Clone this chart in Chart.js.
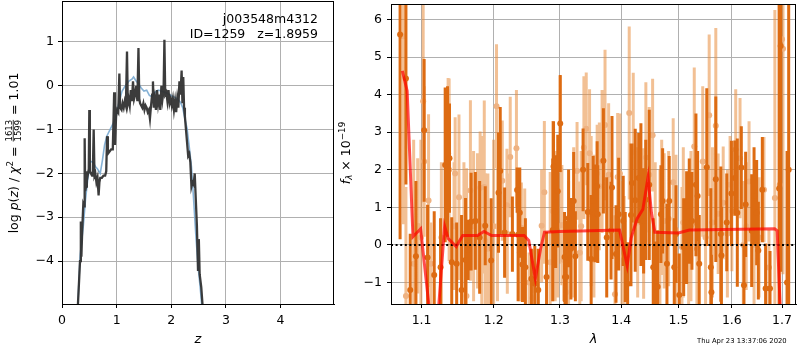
<!DOCTYPE html>
<html><head><meta charset="utf-8">
<script src="https://cdn.jsdelivr.net/npm/chart.js@4.4.1/dist/chart.umd.min.js"></script>
<style>
html,body{margin:0;padding:0;background:#fff;}
#wrap{position:relative;width:800px;height:350px;overflow:hidden;background:#fff;}
canvas{position:absolute;top:0;}
#c1{left:0;}
#c2{left:330px;}
</style></head>
<body><div id="wrap"><canvas id="c1" width="345" height="350"></canvas><canvas id="c2" width="470" height="350"></canvas></div>
<script>
// ---------- Left panel: p(z) ----------
const zGrid = [0.28,0.33,0.345,0.355,0.37,0.39,0.405,0.415,0.425,0.44,0.455,0.47,0.49,0.50,0.51,0.53,0.55,0.565,0.58,0.595,0.61,0.63,0.65,0.67,0.685,0.70,0.73,0.76,0.79,0.81,0.825,0.84,0.87,0.90,0.93,0.955,0.97,0.99,1.01,1.03,1.05,1.065,1.09,1.11,1.13,1.15,1.17,1.19,1.205,1.22,1.24,1.26,1.28,1.30,1.32,1.34,1.36,1.38,1.40,1.415,1.43,1.45,1.47,1.49,1.51,1.53,1.55,1.57,1.59,1.61,1.63,1.65,1.665,1.68,1.70,1.72,1.74,1.76,1.78,1.80,1.82,1.84,1.86,1.875,1.89,1.91,1.93,1.95,1.97,1.99,2.01,2.03,2.05,2.07,2.09,2.11,2.13,2.15,2.17,2.19,2.205,2.22,2.235,2.25,2.27,2.29,2.31,2.33,2.35,2.37,2.39,2.41,2.43,2.45,2.47,2.49,2.505,2.52,2.55,2.59];
const logPz = [-5.3,-4.0,-3.1,-3.9,-3.3,-2.7,-2.75,-1.2,-2.4,-2.3,-1.95,-2.05,-1.9,-0.55,-1.95,-2.0,-2.05,-1.95,-1.0,-2.05,-2.0,-2.2,-2.1,-2.5,-2.2,-2.1,-2.1,-2.05,-2.05,-1.95,-1.15,-1.55,-1.5,-1.45,-1.45,-0.15,-1.35,-0.7,-0.55,-0.6,0.28,-0.5,-0.55,-0.4,-0.5,-0.35,-0.45,0.78,-0.4,-0.3,-0.45,-0.1,-0.35,0.1,-0.3,-0.2,0.0,-0.35,0.86,-0.3,-0.4,-0.45,-0.5,-0.4,-0.55,-0.45,-0.5,-0.6,-0.55,-0.75,-0.45,-0.2,0.1,-0.5,-0.3,-0.55,-0.1,-0.4,-0.2,-0.55,0.0,-0.3,-0.1,1.05,-0.2,-0.15,-0.35,-0.1,-0.4,-0.3,-0.45,-0.3,-0.55,-0.35,-0.6,-0.3,-0.5,0.1,-0.2,0.35,-0.4,0.2,-0.5,-0.7,-1.0,-1.3,-1.6,-1.55,-1.75,-2.3,-2.2,-2.25,-2.0,-2.6,-3.2,-4.2,-3.5,-4.3,-4.6,-5.3];
const zPrior = [0.28,0.33,0.39,0.43,0.47,0.52,0.57,0.61,0.65,0.70,0.74,0.78,0.82,0.88,0.94,0.98,1.02,1.06,1.10,1.16,1.22,1.28,1.31,1.35,1.40,1.45,1.50,1.55,1.60,1.65,1.70,1.76,1.82,1.88,1.94,2.00,2.06,2.12,2.17,2.21,2.25,2.29,2.33,2.37,2.41,2.45,2.49,2.53,2.58];
const logPrior = [-5.3,-3.9,-3.2,-2.6,-2.15,-1.72,-1.75,-1.84,-1.9,-2.0,-1.7,-1.35,-1.15,-1.0,-0.85,-0.75,-0.5,-0.3,-0.12,0.0,0.1,0.15,0.2,0.12,0.05,-0.05,-0.12,-0.1,-0.22,-0.25,-0.15,-0.1,-0.12,-0.15,-0.18,-0.22,-0.26,-0.3,-0.38,-0.5,-0.75,-0.98,-1.4,-1.85,-2.6,-3.4,-4.1,-4.6,-5.3];
const zTicks = [0,1,2,3,4];
const pzTicks = [-4,-3,-2,-1,0,1];

// ---------- Right panel: spectrum ----------
const lamA = [1.0718,1.0794,1.0850,1.0925,1.1034,1.1080,1.1169,1.1255,1.1318,1.1350,1.1377,1.1408,1.1476,1.1544,1.1600,1.1636,1.1678,1.1738,1.1799,1.1879,1.1964,1.2071,1.2096,1.2160,1.2275,1.2345,1.2360,1.2385,1.2424,1.2469,1.2560,1.2612,1.2665,1.2792,1.2888,1.2900,1.2934,1.2966,1.3005,1.3073,1.3080,1.3100,1.3137,1.3174,1.3218,1.3245,1.3369,1.3445,1.3500,1.3533,1.3560,1.3598,1.3608,1.3701,1.3756,1.3828,1.3844,1.3911,1.3956,1.4033,1.4067,1.4108,1.4165,1.4181,1.4238,1.4297,1.4336,1.4383,1.4420,1.4481,1.4551,1.4599,1.4629,1.4687,1.4717,1.4794,1.4835,1.4925,1.4956,1.5016,1.5096,1.5150,1.5198,1.5247,1.5321,1.5352,1.5382,1.5523,1.5599,1.5610,1.5693,1.5788,1.5800,1.5902,1.5992,1.6056,1.6106,1.6184,1.6236,1.6269,1.6388,1.6435,1.6487,1.6520,1.6600,1.6666,1.6755,1.6940,1.6972,1.7103,1.7137];
const fluxA = [5.6,4.43,-1.2,-0.3,3.05,-0.33,-0.8,-0.59,2.13,2.22,2.31,-0.46,-0.5,-1.2,-0.4,-0.13,0.62,0.64,0.2,0.51,-0.41,1.39,1.97,0.33,0.29,1.46,0.27,0.86,-0.52,-0.59,-0.9,-1.03,-1.2,-0.85,0.4,2.09,0.89,1.43,3.23,-0.32,-0.85,-0.85,0.71,-0.1,1.17,-0.3,2.0,0.88,-0.37,1.17,0.84,1.56,0.82,2.24,0.2,0.38,1.53,-0.24,0.82,0.64,-0.32,-1.03,0.8,1.65,1.19,1.78,1.34,0.64,1.2,1.6,-0.59,-1.11,-1.11,0.82,1.17,-0.5,1.17,-0.59,0.29,-1.33,-0.06,0.46,0.9,0.64,1.6,1.3,-0.5,2.07,-0.59,-1.26,1.75,0.29,-0.28,0.6,1.37,1.78,0.86,2.06,-1.07,1.08,0.38,1.3,0.86,-0.15,1.47,-1.16,-1.16,1.5,5.29,-1.0,2.0];
const errA = [5.45,2.82,1.5,2.0,1.9,1.4,1.7,1.3,2.06,2.0,1.45,1.2,1.1,2.0,1.65,0.8,1.3,1.3,1.5,1.05,1.65,1.6,1.7,1.2,1.0,0.6,1.77,1.2,1.0,1.3,0.8,1.0,1.1,1.2,1.9,1.2,1.5,1.5,1.29,1.2,1.0,1.5,1.3,1.35,1.3,1.2,1.1,1.3,1.7,1.2,1.3,1.2,1.3,1.4,1.6,1.3,1.9,1.3,1.5,1.2,1.2,1.1,1.9,1.05,1.9,1.2,1.9,1.4,1.6,2.0,1.3,1.2,1.5,1.3,1.4,1.6,1.2,1.3,1.3,1.1,1.3,1.5,1.4,1.3,1.9,1.2,1.3,2.1,2.1,1.0,2.2,1.8,1.3,1.3,1.4,1.0,1.97,1.1,1.1,1.4,1.5,1.3,1.4,1.3,1.4,1.2,1.0,8,6,3.5,8];
const lamB = [1.0762,1.0794,1.0895,1.0948,1.0991,1.1021,1.1034,1.1093,1.1123,1.1266,1.1358,1.1372,1.1440,1.1455,1.1508,1.1577,1.1613,1.1668,1.1713,1.1768,1.1806,1.1829,1.1865,1.1879,1.1917,1.2000,1.2042,1.2056,1.2126,1.2194,1.2200,1.2243,1.2335,1.2385,1.2409,1.2459,1.2525,1.2575,1.2612,1.2716,1.2758,1.2848,1.2888,1.2926,1.2966,1.3005,1.3031,1.3058,1.3100,1.3137,1.3218,1.3272,1.3316,1.3338,1.3382,1.3420,1.3474,1.3500,1.3545,1.3598,1.3634,1.3679,1.3728,1.3788,1.3894,1.3939,1.3977,1.4011,1.4050,1.4135,1.4204,1.4280,1.4383,1.4422,1.4481,1.4540,1.4586,1.4669,1.4700,1.4745,1.4824,1.4906,1.4956,1.5065,1.5089,1.5187,1.5229,1.5290,1.5339,1.5447,1.5500,1.5568,1.5630,1.5693,1.5738,1.5834,1.5914,1.5966,1.6000,1.6075,1.6159,1.6223,1.6280,1.6336,1.6435,1.6535,1.6633,1.6733,1.6853,1.6953,1.7000,1.7020];
const fluxB = [5.55,-1.36,-0.5,0.51,0.2,3.82,2.22,1.18,-0.5,0.2,2.44,2.0,0.5,1.9,1.27,0.3,-1.36,1.45,0.5,0.64,1.52,0.5,1.54,0.11,-0.1,0.5,3.69,0.5,1.71,1.06,0.3,2.34,2.57,-0.2,0.46,0.0,-1.0,-1.42,-1.2,0.51,1.4,-0.46,0.9,0.5,0.5,2.0,0.53,-0.4,-1.26,0.0,0.6,1.97,-0.21,0.5,2.59,3.09,2.44,0.9,0.5,1.9,1.56,2.22,3.19,1.87,-1.31,1.81,1.9,0.0,-0.3,3.51,2.48,0.6,0.57,2.33,1.87,2.92,0.2,0.2,1.0,0.64,0.7,1.67,0.4,-0.06,0.6,0.1,0.5,2.62,-0.1,2.22,0.2,3.45,0.6,3.17,0.83,1.12,0.3,1.6,0.9,2.54,2.31,0.0,0.5,1.69,0.0,0.2,1.47,-0.6,1.25,1.6,5.47,5.22];
const errB = [5.0,2.9,3.3,1.8,2.6,2.7,2.0,2.3,1.1,2.0,2.0,2.43,1.7,1.5,2.2,1.9,3.4,2.4,2.0,1.8,1.5,2.4,2.3,1.8,2.0,2.3,1.65,2.0,1.6,1.5,1.6,1.6,1.55,1.3,1.2,1.5,0.8,1.3,0.7,1.5,1.9,2.4,2.4,2.0,1.9,2.5,1.6,1.1,1.2,1.7,2.0,1.3,1.9,2.0,1.9,1.5,1.7,2.0,1.9,1.3,1.7,1.9,2.0,1.9,2.1,1.7,1.6,1.7,1.6,2.3,2.1,2.0,2.0,2.0,1.8,1.5,2.0,1.8,1.8,1.8,1.8,1.7,2.0,1.6,2.0,1.8,2.0,2.1,1.8,2.0,1.8,2.15,2.0,2.6,1.6,1.5,1.7,1.3,1.6,1.6,1.6,1.7,1.7,1.6,1.6,1.6,1.4,1.0,5.0,6.0,6.0,6.0];
const lamModel = [1.0747,1.0810,1.0886,1.0987,1.1097,1.1150,1.1200,1.1231,1.1310,1.1360,1.1470,1.1560,1.1770,1.1860,1.1970,1.2450,1.2520,1.2620,1.2700,1.2760,1.3000,1.3970,1.4100,1.4170,1.4270,1.4370,1.4460,1.4520,1.4580,1.5000,1.5200,1.6850,1.6900,1.6960,1.7000];
const fluxModel = [4.63,4.10,0.22,0.43,-1.6,-2.2,-2.0,-1.6,0.5,0.17,-0.04,0.25,0.25,0.36,0.25,0.25,0.12,-0.9,-0.1,0.34,0.36,0.40,-0.55,0.2,0.7,0.95,1.8,0.85,0.34,0.32,0.40,0.43,0.38,-1.6,-2.5];
const lamTicks = [1.1,1.2,1.3,1.4,1.5,1.6,1.7];
const fluxTicks = [-1,0,1,2,3,4,5,6];

// ---------- helpers ----------
const FONT = '"DejaVu Sans", "Liberation Sans", sans-serif';
const TS = 12.5;
const minus = s => String(s).replace('-', '\u2212');
function xy(xs, ys){ return xs.map((x,i)=>({x:x, y:ys[i]})); }
function errPts(xs, ys, es){
  const p=[]; xs.forEach((x,i)=>{ p.push({x:x,y:ys[i]-es[i]},{x:x,y:ys[i]+es[i]},{x:x,y:null}); }); return p;
}
function font(sz, it){ return (it?'italic ':'') + sz + 'px ' + FONT; }
function richWidth(ctx, parts){
  let w=0; parts.forEach(p=>{
    if(p.frac){ ctx.font=font(p.s); w += Math.max(ctx.measureText(p.frac[0]).width, ctx.measureText(p.frac[1]).width)+2; }
    else { ctx.font=font(p.s,p.i); w += ctx.measureText(p.t).width; }
  }); return w;
}
function drawRich(ctx, parts, x, y){
  ctx.textBaseline='alphabetic'; ctx.textAlign='left'; ctx.fillStyle='#000';
  parts.forEach(p=>{
    if(p.frac){
      ctx.font=font(p.s);
      const w=Math.max(ctx.measureText(p.frac[0]).width, ctx.measureText(p.frac[1]).width);
      const axis = y - 4.3;
      ctx.textAlign='center';
      ctx.fillText(p.frac[0], x+1+w/2, axis-1.5);
      ctx.fillText(p.frac[1], x+1+w/2, axis+1.2+p.s*0.73);
      ctx.fillRect(x+1, axis-0.4, w, 0.8);
      ctx.textAlign='left';
      x += w+2;
    } else {
      ctx.font=font(p.s,p.i);
      ctx.fillText(p.t, x, y+(p.dy||0));
      x += ctx.measureText(p.t).width;
    }
  });
}
function drawRotated(ctx, parts, cx, cy){
  ctx.save(); ctx.translate(cx, cy); ctx.rotate(-Math.PI/2);
  const w = richWidth(ctx, parts);
  drawRich(ctx, parts, -w/2, 4.5);
  ctx.restore();
}
const frame = {
  id:'frame',
  afterDraw(chart, args, opts){
    const ctx=chart.ctx, a=chart.chartArea;
    ctx.save(); ctx.strokeStyle='#000'; ctx.lineWidth=1;
    ctx.strokeRect(a.left+0.5, a.top+0.5, a.right-a.left-1, a.bottom-a.top);
    ctx.restore();
    if(opts.draw) opts.draw(ctx, a);
  }
};
function fitX(s){ s.height = 46; s.paddingLeft = 0; s.paddingRight = 0; s.paddingTop = 0; s.paddingBottom = 0; }
function fitY(w){ return s => { s.width = w; s.paddingTop = 0; s.paddingBottom = 0; s.paddingLeft = 0; s.paddingRight = 0; }; }
function axisOpts(extra){
  return Object.assign({
    grid:{color:'#b0b0b0', lineWidth:1, drawTicks:true, tickLength:4, tickColor:'#000', tickWidth:1},
    border:{color:'#000', width:1}
  }, extra);
}

// ---------- Left chart ----------
new Chart(document.getElementById('c1'), {
  type:'line',
  data:{ datasets:[
    { data: xy(zGrid, logPz), borderColor:'rgba(50,50,50,0.95)', borderWidth:2.3, pointRadius:0, tension:0, clip:0, order:0 },
    { data: xy(zPrior, logPrior), borderColor:'rgba(120,168,208,0.9)', borderWidth:1.6, pointRadius:0, tension:0, clip:0, order:1 }
  ]},
  options:{
    animation:false, responsive:false, events:[],
    layout:{padding:{left:0, top:1, right:11, bottom:0}},
    plugins:{ legend:{display:false}, tooltip:{enabled:false},
      frame:{ draw(ctx, a){
        ctx.save(); ctx.fillStyle='#000';
        ctx.font=font(TS); ctx.textAlign='right'; ctx.textBaseline='middle';
        ctx.fillText('j003548m4312', 318, 20);
        ctx.fillText('ID=1259   z=1.8959', 318, 34.5);
        ctx.font=font(13,true); ctx.textAlign='center';
        ctx.fillText('z', (a.left+a.right)/2, 340);
        ctx.restore();
        drawRotated(ctx, [
          {t:'log', s:TS},{t:' ', s:TS},{t:'p', s:TS, i:true},{t:'(', s:TS},{t:'z', s:TS, i:true},{t:')', s:TS},
          {t:' / ', s:TS},{t:'\u03c7', s:TS, i:true},{t:'2', s:8.8, dy:-5},{t:' = ', s:TS},
          {frac:['1613','1599'], s:8.5},{t:' = 1.01', s:TS}
        ], 13, 153);
      }}
    },
    scales:{
      x: axisOpts({ type:'linear', min:0, max:4.98,
        afterBuildTicks: s=>{ s.ticks = zTicks.map(v=>({value:v})); },
        afterFit: fitX,
        ticks:{color:'#000', font:{family:FONT, size:TS}, autoSkip:false, maxRotation:0, padding:5, callback:v=>minus(v)} }),
      y: axisOpts({ type:'linear', min:-4.98, max:1.935,
        afterBuildTicks: s=>{ s.ticks = pzTicks.map(v=>({value:v})); },
        afterFit: fitY(62),
        ticks:{color:'#000', font:{family:FONT, size:TS}, autoSkip:false, padding:4, callback:v=>minus(v)} })
    }
  },
  plugins:[frame]
});

// ---------- Right chart ----------
new Chart(document.getElementById('c2'), {
  type:'line',
  data:{ datasets:[
    { data: xy(lamModel, fluxModel), borderColor:'rgba(255,0,0,0.7)', borderWidth:3, pointRadius:0, tension:0, clip:0, order:0 },
    { data: [{x:1.0601,y:0},{x:1.7289,y:0}], borderColor:'#000', borderWidth:2, borderDash:[2,2.6], pointRadius:0, clip:0, order:1 },
    { data: xy(lamA, fluxA), showLine:false, pointRadius:3, pointBorderWidth:0, pointBackgroundColor:'rgb(221,107,18)', clip:0, order:2 },
    { data: errPts(lamA, fluxA, errA), borderColor:'rgb(221,107,18)', borderWidth:3, borderCapStyle:'butt', pointRadius:0, spanGaps:false, clip:0, order:3 },
    { data: xy(lamB, fluxB), showLine:false, pointRadius:3, pointBorderWidth:0, pointBackgroundColor:'rgb(238,178,130)', clip:0, order:4 },
    { data: errPts(lamB, fluxB, errB), borderColor:'rgba(232,140,60,0.55)', borderWidth:3, borderCapStyle:'butt', pointRadius:0, spanGaps:false, clip:0, order:5 }
  ]},
  options:{
    animation:false, responsive:false, events:[],
    layout:{padding:{left:0, top:1, right:0, bottom:0}},
    plugins:{ legend:{display:false}, tooltip:{enabled:false},
      frame:{ draw(ctx, a){
        ctx.save(); ctx.fillStyle='#000';
        ctx.font=font(13,true); ctx.textAlign='center'; ctx.textBaseline='middle';
        ctx.fillText('\u03bb', (a.left+a.right)/2, 340);
        ctx.font=font(6.8); ctx.textAlign='left'; ctx.textBaseline='alphabetic';
        ctx.fillText('Thu Apr 23 13:37:06 2020', 697-330, 342.5);
        ctx.restore();
        drawRotated(ctx, [
          {t:'f', s:TS, i:true},{t:'\u03bb', s:8.8, i:true, dy:2.5},{t:' \u00d7 10', s:TS},{t:'\u221219', s:8.8, dy:-5}
        ], 15, 153);
      }}
    },
    scales:{
      x: axisOpts({ type:'logarithmic', min:1.0601, max:1.7289,
        afterBuildTicks: s=>{ s.ticks = lamTicks.map(v=>({value:v})); },
        afterFit: fitX,
        ticks:{color:'#000', font:{family:FONT, size:TS}, autoSkip:false, maxRotation:0, padding:5, callback:v=>Number(v).toFixed(1)} }),
      y: axisOpts({ type:'linear', min:-1.57, max:6.41,
        afterBuildTicks: s=>{ s.ticks = fluxTicks.map(v=>({value:v})); },
        afterFit: fitY(61),
        ticks:{color:'#000', font:{family:FONT, size:TS}, autoSkip:false, padding:5, callback:v=>minus(v)} })
    }
  },
  plugins:[frame]
});
</script>
</body></html>
